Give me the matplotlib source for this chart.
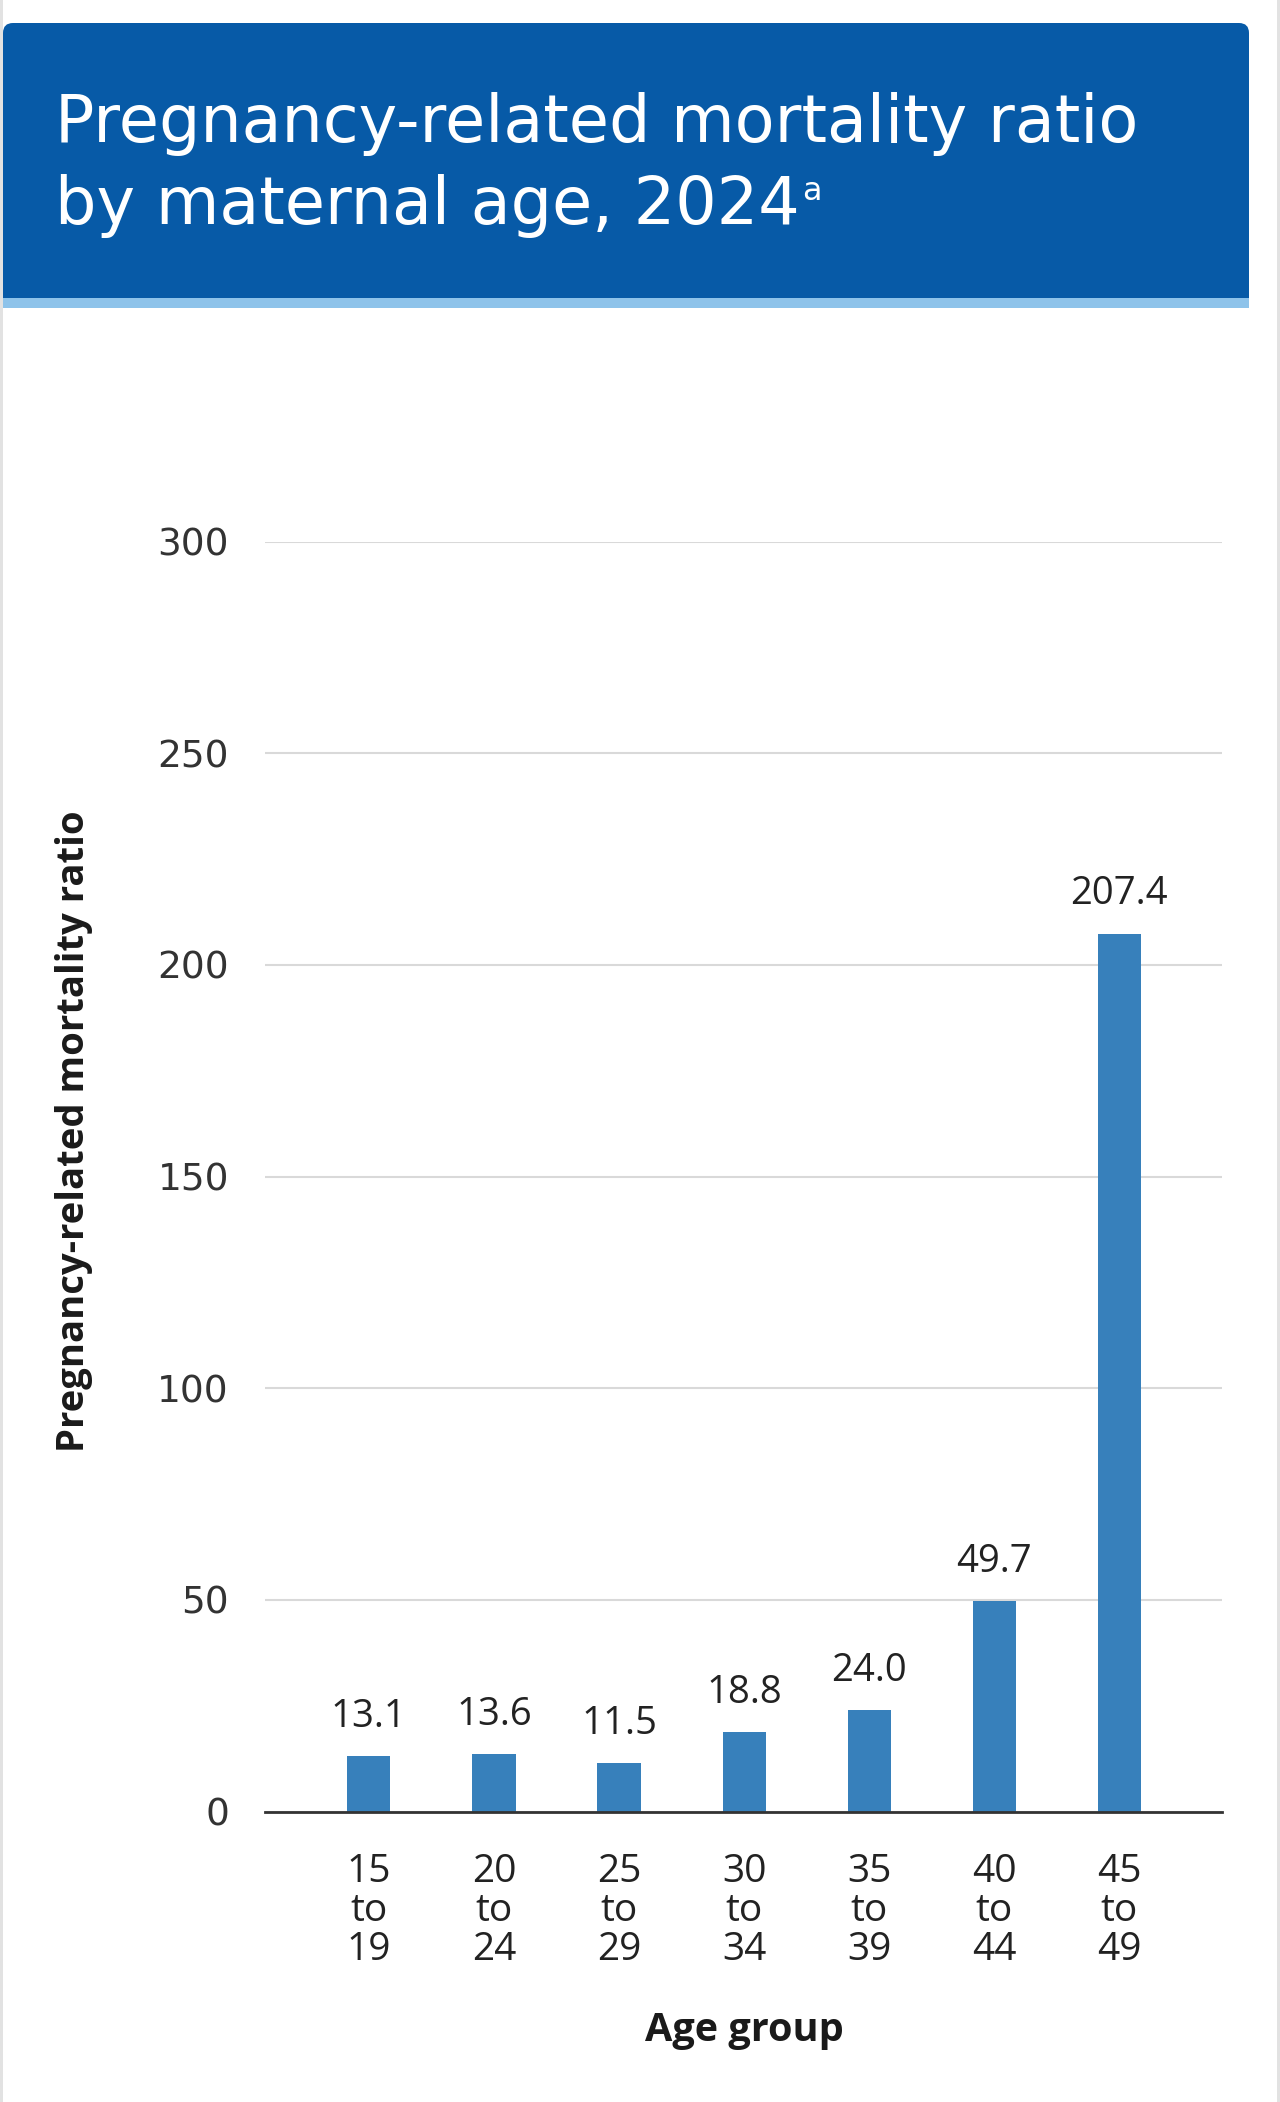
import matplotlib
matplotlib.use('Agg')
import matplotlib.pyplot as plt
from matplotlib.patches import FancyBboxPatch, Rectangle

# data
age_groups = ['15\nto\n19', '20\nto\n24', '25\nto\n29', '30\nto\n34', '35\nto\n39', '40\nto\n44', '45\nto\n49']
ratios = [13.1, 13.6, 11.5, 18.8, 24.0, 49.7, 207.4]
y_ticks = [0, 50, 100, 150, 200, 250, 300]

plt.rcParams['font.family'] = ['Open Sans', 'DejaVu Sans']

W, H = 1280, 2102
fig = plt.figure(figsize=(W / 100, H / 100), dpi=100)

# background layer in pixel coordinates (y down)
bg = fig.add_axes([0, 0, 1, 1], zorder=0)
bg.set_xlim(0, W)
bg.set_ylim(H, 0)
bg.axis('off')

# card borders
bg.add_patch(Rectangle((0, 0), 3, H, color='#e2e2e2', lw=0))
bg.add_patch(Rectangle((1277, 0), 3, H, color='#e2e2e2', lw=0))

# header box with light stripe under it
bg.add_patch(FancyBboxPatch((3, 23), 1246, 285, boxstyle='round,pad=0,rounding_size=10',
                            fc='#075aa7', ec='none'))
bg.add_patch(Rectangle((3, 297.5), 1246, 10.5, color='#8ec3ea', lw=0))

title_font = ['DejaVu Sans']
bg.text(55, 142, 'Pregnancy-related mortality ratio', color='white', fontsize=47,
        va='baseline', family=title_font)
t2 = bg.text(55, 224, 'by maternal age, 2024', color='white', fontsize=47,
             va='baseline', family=title_font)
fig.canvas.draw()
bb = t2.get_window_extent()
x_end = bg.transData.inverted().transform((bb.x1, bb.y0))[0]
bg.text(x_end + 2, 200, 'a', color='white', fontsize=23, va='baseline', family=title_font)

# axis titles
bg.text(74, 1131, 'Pregnancy-related mortality ratio', rotation=90, ha='center', va='center',
        fontsize=27.5, fontweight='bold', color='#1a1a1a')
bg.text(744, 2041, 'Age group', ha='center', va='baseline',
        fontsize=28.5, fontweight='bold', color='#1a1a1a')

# chart
ax = fig.add_axes([265 / W, 1 - 1811.5 / H, (1222 - 265) / W, 1270 / H], zorder=1)
ax.patch.set_alpha(0)
x = range(len(ratios))
ax.bar(x, ratios, width=0.345, color='#3780bb', zorder=3)
for xi, v in zip(x, ratios):
    ax.annotate(f'{v:.1f}', (xi, v), xytext=(0, 21), textcoords='offset points',
                ha='center', va='baseline', fontsize=27.5, color='#222222')

ax.set_xlim(-0.83, 6.82)
ax.set_ylim(0, 300)
ax.set_yticks(y_ticks)
ax.set_yticklabels([str(t) for t in y_ticks], fontsize=27, color='#333333', family=['DejaVu Sans'])
ax.set_xticks(list(x))
ax.set_xticklabels(age_groups, fontsize=28, color='#222222', linespacing=1.03)
ax.tick_params(axis='y', length=0, pad=26)
ax.tick_params(axis='x', length=0, pad=30)
ax.grid(axis='y', color='#d9d9d9', lw=1.5, zorder=0)
for s in ['left', 'right', 'top']:
    ax.spines[s].set_visible(False)
ax.spines['bottom'].set_color('#333333')
ax.spines['bottom'].set_linewidth(2)
ax.spines['bottom'].set_zorder(4)

fig.savefig('out.png', dpi=100, facecolor='white')
